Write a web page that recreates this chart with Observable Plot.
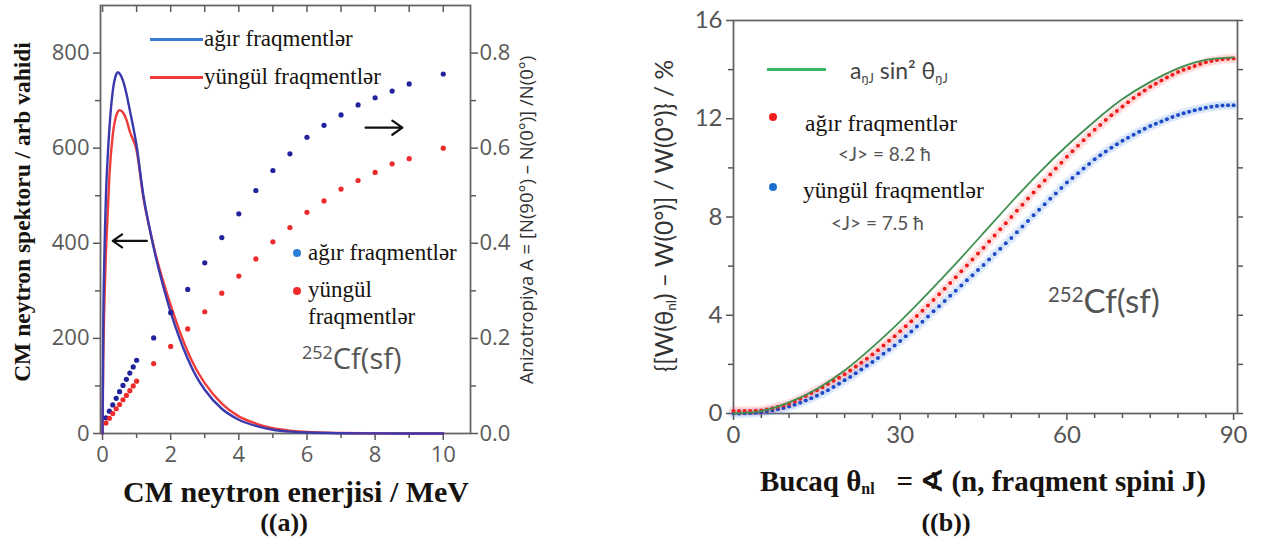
<!DOCTYPE html>
<html><head><meta charset="utf-8">
<script src="https://cdn.jsdelivr.net/npm/d3@7"></script>
<script src="https://cdn.jsdelivr.net/npm/@observablehq/plot@0.6"></script>
<style>
html,body{margin:0;padding:0;background:#fff}
body{width:1264px;height:546px;overflow:hidden;position:relative}
#left,#right{position:absolute;top:0}
#left{left:0}
#right{left:640px}
.t{position:absolute;white-space:nowrap;transform:translate(-50%,-50%)}
.tl{position:absolute;white-space:nowrap;transform:translate(0,-50%)}
.rot{transform:translate(-50%,-50%) rotate(-90deg)}
.sb{font-family:"Liberation Serif",serif;font-weight:bold;color:#17130f}
.sr{font-family:"Liberation Serif",serif;color:#17130f}
.ss{font-family:"Open Sans",sans-serif;color:#3a3a3a}
.lt{font-family:"Lato",sans-serif;color:#3a3a3a}
.sw{position:absolute;height:3px}
.dt{position:absolute;border-radius:50%}
sub.s{font-size:55%;vertical-align:-0.25em}
sup.s{font-size:62%;vertical-align:0.55em}
</style></head><body>
<div id="left"></div>
<div id="right"></div>

<!-- panel (a) texts -->
<div class="t rot sb" style="left:22px;top:212px;font-size:23.5px">CM neytron spektoru / arb vahidi</div>
<div class="t rot ss" style="left:525px;top:220px;font-size:18.5px;color:#333">Anizotropiya A = [N(90°) – N(0°)] /N(0°)</div>
<div class="t sb" style="left:296px;top:492px;font-size:30px">CM neytron enerjisi / MeV</div>
<div class="t sb" style="left:284px;top:523px;font-size:26px">((a))</div>
<div class="sw" style="left:150px;top:38px;width:53px;background:#3b7ad4"></div>
<div class="tl sr" style="left:204px;top:39px;font-size:23px">ağır fraqmentlər</div>
<div class="sw" style="left:150px;top:76px;width:53px;background:#f03a3a"></div>
<div class="tl sr" style="left:204px;top:77px;font-size:23px">yüngül fraqmentlər</div>
<div class="dt" style="left:293px;top:249px;width:8px;height:8px;background:#2b7fd6"></div>
<div class="tl sr" style="left:308px;top:253px;font-size:23px">ağır fraqmentlər</div>
<div class="dt" style="left:293px;top:287px;width:8px;height:8px;background:#f02a2a"></div>
<div class="tl sr" style="left:308px;top:290px;font-size:23px">yüngül</div>
<div class="tl sr" style="left:308px;top:317px;font-size:23px">fraqmentlər</div>
<div class="tl ss" style="left:302px;top:357px;font-size:29px;color:#555"><sup class="s">252</sup>Cf(sf)</div>

<!-- panel (b) texts -->
<div class="t rot lt" style="left:664px;top:216px;font-size:24.5px;color:#333">{[W(θ<sub class="s">nl</sub>) – W(0°)] / W(0°)} / %</div>
<div class="t sb" style="left:983px;top:481px;font-size:29px">Bucaq θ<sub class="s">nl</sub>&nbsp;&nbsp; = ∢ (n, fraqment spini J)</div>
<div class="t sb" style="left:946px;top:523px;font-size:26px">((b))</div>
<div class="sw" style="left:767px;top:68px;width:59px;background:#3cb464"></div>
<div class="tl lt" style="left:850px;top:71px;font-size:23px;color:#444">a<sub class="s">ŋJ</sub> sin² θ<sub class="s">ŋJ</sub></div>
<div class="dt" style="left:769px;top:113px;width:8px;height:8px;background:#f21c1c"></div>
<div class="tl sr" style="left:805px;top:123px;font-size:23.5px">ağır fraqmentlər</div>
<div class="tl lt" style="left:838px;top:153px;font-size:19px;color:#555">&lt;J&gt; = 8.2 ħ</div>
<div class="dt" style="left:769px;top:183px;width:8px;height:8px;background:#1f6fd0"></div>
<div class="tl sr" style="left:803px;top:190px;font-size:23.5px">yüngül fraqmentlər</div>
<div class="tl lt" style="left:831px;top:222px;font-size:19px;color:#555">&lt;J&gt; = 7.5 ħ</div>
<div class="tl lt" style="left:1048px;top:300px;font-size:33px;color:#555"><sup class="s">252</sup>Cf(sf)</div>

<script>
// ---------- panel (a): CM neutron spectra ----------
const energy = [0,0.02,0.05,0.1,0.15,0.2,0.3,0.4,0.45,0.5,0.6,0.7,0.8,1.0,1.2,1.4,1.6,1.8,2.0,2.25,2.5,2.75,3.0,3.5,4.0,4.5,5.0,5.5,6.0,7.0,8.0,9.0,10.0];
const spectrumHeavy = [0,220,360,500,580,640,720,755,760,757,742,715,680,605,500,425,360,305,255,202,157,120,92,52,29,16,8,4,2,0.6,0.2,0,0];
const spectrumLight = [0,150,260,380,460,540,628,668,677,680,675,660,635,595,495,425,365,315,270,218,172,135,106,63,36,21,11,6,3,1,0.3,0.1,0];

// anisotropy points (right axis)
const anisoEnergy = [0.1,0.2,0.3,0.4,0.5,0.6,0.7,0.8,0.9,1.0,1.5,2.0,2.5,3.0,3.5,4.0,4.5,5.0,5.5,6.0,6.5,7.0,7.5,8.0,8.5,9.0,10.0];
const anisoHeavy = [0.033,0.047,0.060,0.074,0.088,0.101,0.114,0.127,0.140,0.154,0.201,0.254,0.303,0.359,0.412,0.462,0.511,0.553,0.588,0.623,0.648,0.670,0.691,0.706,0.720,0.735,0.756];
const anisoLight = [0.022,0.032,0.042,0.052,0.061,0.071,0.080,0.090,0.100,0.110,0.147,0.183,0.220,0.256,0.295,0.331,0.367,0.403,0.433,0.465,0.489,0.514,0.532,0.549,0.567,0.578,0.600];

const energyTicks = [0,2,4,6,8,10];
const energyMinorTicks = [1,3,5,7,9];
const spectrumTicks = [0,200,400,600,800];
const spectrumMinorTicks = [100,300,500,700];
const anisoTickLabels = ["0.0","0.2","0.4","0.6","0.8"];
const anisoScale = 1000; // right axis 0.8 aligns with left axis 800

// ---------- panel (b): angular distribution ----------
const angle = d3.range(0, 91);
const angleGreen = [0,5,10,15,20,25,30,35,40,45,50,55,60,65,70,75,80,85,90];
const fitGreen = [0,0.1,0.45,1.0,1.75,2.7,3.75,4.9,6.1,7.35,8.6,9.8,10.9,11.9,12.8,13.5,14.05,14.4,14.5];
const heavyPct = [0.10,0.10,0.10,0.10,0.11,0.12,0.16,0.21,0.27,0.33,0.40,0.50,0.60,0.71,0.83,0.95,1.07,1.20,1.33,1.46,1.60,1.75,1.91,2.07,2.23,2.40,2.58,2.77,2.96,3.15,3.35,3.55,3.76,3.97,4.18,4.40,4.62,4.85,5.08,5.31,5.55,5.79,6.03,6.27,6.51,6.75,7.00,7.25,7.50,7.75,8.00,8.25,8.50,8.75,9.00,9.25,9.49,9.73,9.97,10.21,10.45,10.68,10.90,11.12,11.34,11.55,11.75,11.95,12.14,12.32,12.50,12.67,12.84,13.00,13.15,13.30,13.43,13.56,13.68,13.79,13.90,13.99,14.07,14.15,14.23,14.30,14.35,14.39,14.42,14.44,14.45];
const lightPct = [0.00,0.00,0.01,0.02,0.03,0.05,0.08,0.12,0.17,0.22,0.28,0.36,0.44,0.53,0.62,0.72,0.83,0.95,1.08,1.21,1.35,1.49,1.64,1.79,1.94,2.10,2.26,2.43,2.60,2.77,2.95,3.14,3.34,3.54,3.74,3.95,4.16,4.37,4.58,4.79,5.00,5.21,5.42,5.63,5.84,6.05,6.27,6.49,6.71,6.93,7.15,7.38,7.61,7.84,8.07,8.30,8.52,8.74,8.96,9.18,9.40,9.59,9.78,9.97,10.16,10.35,10.51,10.67,10.82,10.96,11.10,11.23,11.35,11.47,11.59,11.70,11.80,11.89,11.98,12.07,12.15,12.22,12.29,12.35,12.40,12.45,12.49,12.52,12.54,12.55,12.55];
const angleTicks = [0,30,60,90];
const angleMinorTicks = [5,10,15,20,25,35,40,45,50,55,65,70,75,80,85];
const pctTicks = [0,4,8,12,16];
const pctMinorTicks = [2,6,10,14];

// annotation arrows (data units of panel a)
const arrowRows = [
  {x1: 1.3, y1: 405, x2: 0.3, y2: 405},
  {x1: 7.72, y1: 643, x2: 8.8, y2: 643}
];

// build rows
const specRows = energy.map((e, i) => ({e, heavy: spectrumHeavy[i], light: spectrumLight[i]}));
const anisoRows = anisoEnergy.map((e, i) => ({e, heavy: anisoHeavy[i] * anisoScale, light: anisoLight[i] * anisoScale}));
const anisoLabel = new Map(spectrumTicks.map((t, i) => [t, anisoTickLabels[i]]));
const angRows = angle.map((a, i) => ({a, heavy: heavyPct[i], light: lightPct[i]}));
const greenRows = angleGreen.map((a, i) => ({a, v: fitGreen[i]}));

const blank = () => "";

const left = Plot.plot({
  width: 540, height: 546,
  marginLeft: 100, marginRight: 70, marginTop: 5, marginBottom: 113,
  x: {domain: [-0.06, 10.8]},
  y: {domain: [0, 900]},
  style: {fontFamily: "'Open Sans', sans-serif", fontSize: "22px", color: "#5a5a5a", background: "transparent", overflow: "visible"},
  marks: [
    Plot.axisX({ticks: energyTicks, tickSize: 7, tickPadding: 6, label: null, strokeWidth: 1.5}),
    Plot.axisX({ticks: energyMinorTicks, tickSize: 5, tickFormat: blank, label: null, strokeWidth: 1.5}),
    Plot.axisX({anchor: "top", ticks: energyTicks.concat(energyMinorTicks), tickSize: -6, tickFormat: blank, label: null, strokeWidth: 1.5}),
    Plot.axisY({ticks: spectrumTicks, tickSize: 7, tickPadding: 4, label: null, strokeWidth: 1.5}),
    Plot.axisY({ticks: spectrumMinorTicks, tickSize: 5, tickFormat: blank, label: null, strokeWidth: 1.5}),
    Plot.axisY({anchor: "right", ticks: spectrumTicks, tickFormat: d => anisoLabel.get(d), tickSize: 7, tickPadding: 2, label: null, strokeWidth: 1.5}),
    Plot.axisY({anchor: "right", ticks: spectrumMinorTicks, tickSize: 5, tickFormat: blank, label: null, strokeWidth: 1.5}),
    Plot.frame({stroke: "#666", strokeWidth: 1.8}),
    Plot.line(specRows, {x: "e", y: "light", stroke: "#ef3b3b", strokeWidth: 2.4, curve: "monotone-x"}),
    Plot.line(specRows, {x: "e", y: "heavy", stroke: "#3a3aae", strokeWidth: 2.4, curve: "monotone-x"}),
    Plot.dot(anisoRows, {x: "e", y: "heavy", r: 2.6, fill: "#22229c", stroke: "none"}),
    Plot.dot(anisoRows, {x: "e", y: "light", r: 2.6, fill: "#ee2a2a", stroke: "none"}),
    Plot.arrow(arrowRows, {x1: "x1", y1: "y1", x2: "x2", y2: "y2", stroke: "#111", strokeWidth: 2.2, headLength: 11, headAngle: 70})
  ]
});
document.getElementById("left").append(left);

const right = Plot.plot({
  width: 624, height: 546,
  marginLeft: 93, marginRight: 27, marginTop: 20, marginBottom: 133,
  x: {domain: [0, 90.7]},
  y: {domain: [0, 16]},
  style: {fontFamily: "Lato, sans-serif", fontSize: "24px", color: "#555", background: "transparent", overflow: "visible"},
  marks: [
    Plot.axisX({ticks: angleTicks, tickSize: 7, tickPadding: 5, label: null, strokeWidth: 1.5}),
    Plot.axisX({ticks: angleMinorTicks, tickSize: 5, tickFormat: blank, label: null, strokeWidth: 1.5}),
    Plot.axisY({ticks: pctTicks, tickSize: 7, tickPadding: 4, label: null, strokeWidth: 1.5}),
    Plot.axisY({ticks: pctMinorTicks, tickSize: 5, tickFormat: blank, label: null, strokeWidth: 1.5}),
    Plot.axisY({anchor: "right", ticks: pctTicks.concat(pctMinorTicks), tickSize: 5, tickFormat: blank, label: null, strokeWidth: 1.5}),
    Plot.frame({stroke: "#666", strokeWidth: 1.8}),
    Plot.dot(angRows, {x: "a", y: "light", r: 5, fill: "#4a86e8", fillOpacity: 0.16, stroke: "none"}),
    Plot.dot(angRows, {x: "a", y: "heavy", r: 5, fill: "#ff5a5a", fillOpacity: 0.16, stroke: "none"}),
    Plot.dot(angRows, {x: "a", y: "light", r: 2, fill: "#1d49c8", stroke: "none"}),
    Plot.dot(angRows, {x: "a", y: "heavy", r: 2, fill: "#f01c1c", stroke: "none"}),
    Plot.line(greenRows, {x: "a", y: "v", stroke: "#3f8f4f", strokeWidth: 1.8, curve: "natural"})
  ]
});
document.getElementById("right").append(right);
</script>
</body></html>
